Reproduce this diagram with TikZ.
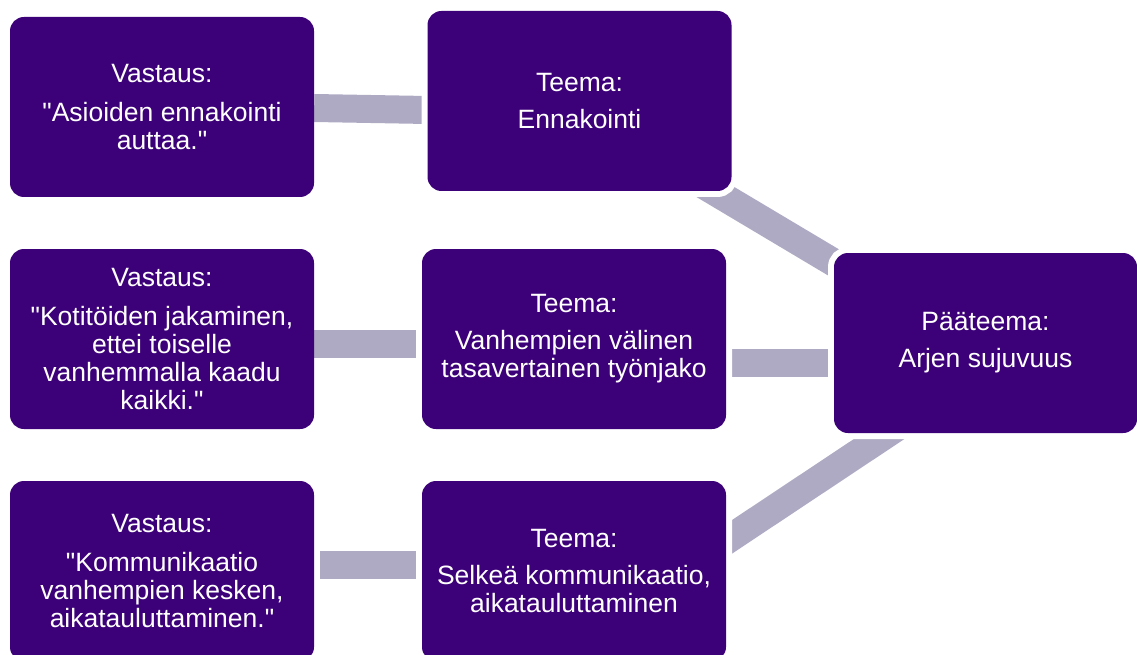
\documentclass[tikz,border=0pt]{standalone}
\usepackage{fontspec}
\setmainfont{Liberation Sans}[Ligatures=TeXOff]
\usepackage{tikz}
\usetikzlibrary{calc,backgrounds}

\definecolor{boxpurple}{HTML}{3C0078}
\definecolor{bargray}{HTML}{AEAAC3}

\begin{document}
\begin{tikzpicture}[x=1pt, y=-1pt,
    card/.style={rectangle, rounded corners=14pt, fill=boxpurple, text=white, inner sep=0pt,
        minimum width=304pt, minimum height=180pt, align=center,
        font=\fontsize{26.5}{28}\selectfont},
    halo/.style={preaction={draw=white, line width=12pt}},
    bar/.style={draw=bargray, line width=28pt}]
    \useasboundingbox (0,0) rectangle (1137,655);
    \clip (0,0) rectangle (1137,655);

    % Answers (left column)
    \node[card] (v1) at (162,107) {Vastaus:\\[11pt]"Asioiden ennakointi\\auttaa."};
    \node[card] (v2) at (162,339) {Vastaus:\\[11pt]"Kotitöiden jakaminen,\\ettei toiselle\\vanhemmalla kaadu\\kaikki."};
    \node[card] (v3) at (162,571) {Vastaus:\\[11pt]"Kommunikaatio\\vanhempien kesken,\\aikatauluttaminen."};

    % Themes (middle column)
    \node[card, halo] (t1) at (579.5,101) {Teema:\\[9pt]Ennakointi};
    \node[card, halo] (t2) at (574,339) {Teema:\\[9pt]Vanhempien välinen\\tasavertainen työnjako};
    \node[card, halo] (t3) at (574,571) {Teema:\\[9pt]Selkeä kommunikaatio,\\aikatauluttaminen};

    % Main theme
    \node[card, halo, minimum width=303pt] (p) at (985.5,343) {Pääteema:\\[9pt]Arjen sujuvuus};

    % Bars
    \begin{scope}[on background layer]
        \draw[bar] ($(v1.east)+(0,1)$) -- ($(t1.west)+(0,9)$);
        \draw[bar] ($(v2.east)+(0,4.5)$) -- ($(t2.west)+(0,4.5)$);
        \draw[bar, shorten <=6pt] ($(v3.east)+(0,-6)$) -- ($(t3.west)+(0,-6)$);

        \draw[bar] ($(t1.center)+(0,10)$) -- ($(p.center)+(0,10)$);
        \draw[bar] ($(t2.east)+(0,24)$) -- ($(p.west)+(0,20)$);
        \draw[bar] ($(t3.east)+(-26,-13)$) -- ($(p.south)+(-48,-33)$);
    \end{scope}
\end{tikzpicture}
\end{document}
